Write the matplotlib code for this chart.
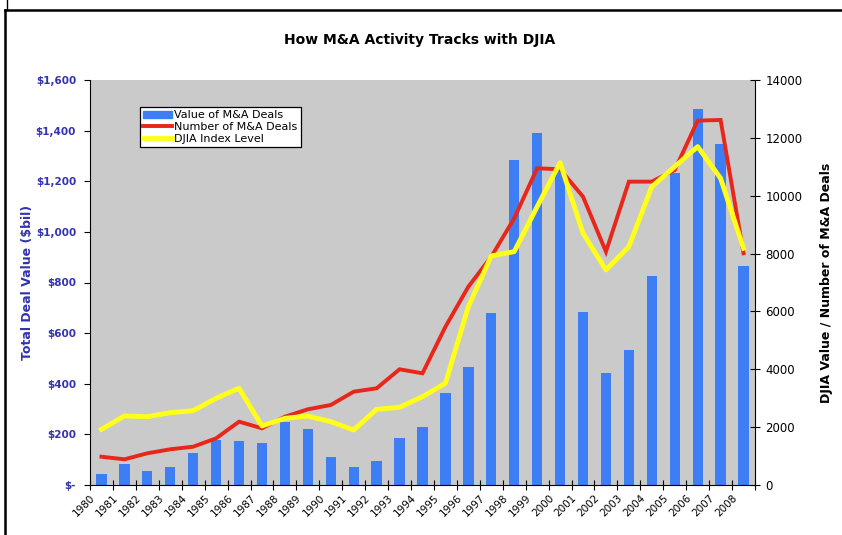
import matplotlib.pyplot as plt
from matplotlib.lines import Line2D
from matplotlib.ticker import FuncFormatter

YEARS = list(range(1980, 2009))

# value of M&A deals, $bil (left axis)
DEAL_VALUE = [44, 82, 55, 72, 125, 178, 174, 165, 248, 221,
              112, 70, 96, 184, 230, 362, 467, 678, 1284, 1389,
              1240, 685, 444, 533, 827, 1231, 1484, 1347, 867]

# number of M&A deals (right axis)
DEAL_COUNT = [978, 888, 1096, 1234, 1324, 1614, 2189, 1960, 2361, 2617,
              2766, 3226, 3343, 4000, 3861, 5470, 6856, 7892, 9220, 10948,
              10913, 9967, 8066, 10486, 10486, 10890, 12595, 12619, 8010]

# DJIA index level (right axis)
DJIA = [1925, 2385, 2361, 2500, 2570, 2997, 3343, 2040, 2305, 2385,
        2188, 1901, 2617, 2686, 3053, 3516, 6164, 7917, 8066, 9621,
        11142, 8701, 7433, 8239, 10313, 11005, 11697, 10602, 8183]

BAR_COLOR = "#3d7ef5"
RED = "#e8261a"
YELLOW = "#ffff1a"
LEFT_TXT = "#3333b0"

fig = plt.figure(figsize=(8.42, 5.35), dpi=100)
ax = fig.add_axes([90 / 842, 50 / 535, 665 / 842, 405 / 535])
ax2 = ax.twinx()

xs = [i + 0.5 for i in range(len(YEARS))]

ax.set_facecolor("#cacaca")
ax.bar(xs, DEAL_VALUE, width=0.45, color=BAR_COLOR, zorder=2)
ax.set_xlim(0, len(YEARS))
ax.set_ylim(0, 1600)
ax.set_yticks(range(0, 1601, 200))
ax.yaxis.set_major_formatter(FuncFormatter(lambda v, p: "$-" if v == 0 else f"${v:,.0f}"))
for lbl in ax.get_yticklabels():
    lbl.set_color(LEFT_TXT)
    lbl.set_fontweight("bold")
ax.tick_params(axis="y", labelsize=7.5, length=4, direction="out", pad=6)

ax.set_xticks(range(len(YEARS) + 1))
ax.set_xticklabels([str(y) for y in YEARS] + [""], rotation=45, ha="right",
                   rotation_mode="anchor", fontsize=7.5)
ax.tick_params(axis="x", direction="inout", length=7, pad=2)

ax.set_ylabel("Total Deal Value ($bil)", color=LEFT_TXT, fontweight="bold", fontsize=9)
ax.yaxis.set_label_coords(-0.084, 0.5)

ax2.plot(xs, DEAL_COUNT, color=RED, lw=2.8, solid_joinstyle="miter", zorder=3,
         label="Number of M&A Deals")
ax2.plot(xs, DJIA, color=YELLOW, lw=3.5, zorder=4, label="DJIA Index Level")
ax2.set_ylim(0, 14000)
ax2.set_yticks(range(0, 14001, 2000))
ax2.tick_params(axis="y", labelsize=8.5, direction="inout", length=7, pad=4)
ax2.set_ylabel("DJIA Value / Number of M&A Deals", fontweight="bold", fontsize=9)
ax2.yaxis.set_label_coords(1.098, 0.5)

for a in (ax, ax2):
    a.spines["top"].set_visible(False)
ax.spines["right"].set_visible(False)
ax2.spines["left"].set_visible(False)
ax2.spines["bottom"].set_visible(False)

fig.text(420 / 842, 1 - 40 / 535, "How M&A Activity Tracks with DJIA",
         ha="center", va="center", fontsize=10, fontweight="bold")

handles = [
    plt.Rectangle((0, 0), 1, 1, color=BAR_COLOR),
    Line2D([], [], color=RED, lw=2.8),
    Line2D([], [], color=YELLOW, lw=3.5),
]
leg = ax2.legend(handles, ["Value of M&A Deals", "Number of M&A Deals", "DJIA Index Level"],
                 loc="upper left", bbox_to_anchor=(50 / 665, 1 - 27 / 405),
                 fontsize=8, frameon=True, fancybox=False, framealpha=1,
                 edgecolor="black", borderpad=0.3, labelspacing=0.15,
                 handlelength=2.6, handletextpad=0.2, borderaxespad=0)
leg.get_frame().set_linewidth(0.9)

# page frame lines
fig.add_artist(Line2D([5 / 842, 1], [1 - 10 / 535] * 2, color="black", lw=1.8))
fig.add_artist(Line2D([5 / 842] * 2, [0, 1 - 10 / 535], color="black", lw=1.8))
fig.add_artist(Line2D([7 / 842] * 2, [1 - 10 / 535, 1], color="black", lw=1.0))

fig.savefig("out.png", dpi=100)
